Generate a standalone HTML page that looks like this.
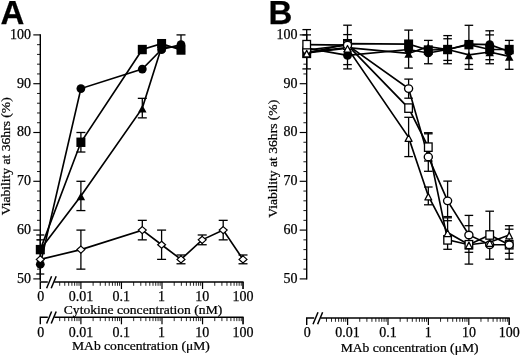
<!DOCTYPE html>
<html><head><meta charset="utf-8"><style>
html,body{margin:0;padding:0;background:#fff;width:520px;height:355px;overflow:hidden}
svg{display:block;filter:grayscale(1)}
text{fill:#000;stroke:#000;stroke-width:0.25px}
</style></head><body>
<svg width="520" height="355" viewBox="0 0 520 355">
<rect width="520" height="355" fill="#fff"/>
<path d="M40.30 34.25V279.55" stroke="#000" stroke-width="1.40"/><path d="M33.30 278.90H40.30" stroke="#000" stroke-width="1.15"/><path d="M37.00 269.14H40.30" stroke="#000" stroke-width="0.90"/><path d="M37.00 259.38H40.30" stroke="#000" stroke-width="0.90"/><path d="M37.00 249.62H40.30" stroke="#000" stroke-width="0.90"/><path d="M37.00 239.86H40.30" stroke="#000" stroke-width="0.90"/><path d="M33.30 230.10H40.30" stroke="#000" stroke-width="1.15"/><path d="M37.00 220.34H40.30" stroke="#000" stroke-width="0.90"/><path d="M37.00 210.58H40.30" stroke="#000" stroke-width="0.90"/><path d="M37.00 200.82H40.30" stroke="#000" stroke-width="0.90"/><path d="M37.00 191.06H40.30" stroke="#000" stroke-width="0.90"/><path d="M33.30 181.30H40.30" stroke="#000" stroke-width="1.15"/><path d="M37.00 171.54H40.30" stroke="#000" stroke-width="0.90"/><path d="M37.00 161.78H40.30" stroke="#000" stroke-width="0.90"/><path d="M37.00 152.02H40.30" stroke="#000" stroke-width="0.90"/><path d="M37.00 142.26H40.30" stroke="#000" stroke-width="0.90"/><path d="M33.30 132.50H40.30" stroke="#000" stroke-width="1.15"/><path d="M37.00 122.74H40.30" stroke="#000" stroke-width="0.90"/><path d="M37.00 112.98H40.30" stroke="#000" stroke-width="0.90"/><path d="M37.00 103.22H40.30" stroke="#000" stroke-width="0.90"/><path d="M37.00 93.46H40.30" stroke="#000" stroke-width="0.90"/><path d="M33.30 83.70H40.30" stroke="#000" stroke-width="1.15"/><path d="M37.00 73.94H40.30" stroke="#000" stroke-width="0.90"/><path d="M37.00 64.18H40.30" stroke="#000" stroke-width="0.90"/><path d="M37.00 54.42H40.30" stroke="#000" stroke-width="0.90"/><path d="M37.00 44.66H40.30" stroke="#000" stroke-width="0.90"/><path d="M33.30 34.90H40.30" stroke="#000" stroke-width="1.15"/>
<text transform="translate(31.10,282.70) scale(1,1.000)" font-family="Liberation Serif" font-size="14.00" text-anchor="end" >50</text><text transform="translate(31.10,233.90) scale(1,1.000)" font-family="Liberation Serif" font-size="14.00" text-anchor="end" >60</text><text transform="translate(31.10,185.10) scale(1,1.000)" font-family="Liberation Serif" font-size="14.00" text-anchor="end" >70</text><text transform="translate(31.10,136.30) scale(1,1.000)" font-family="Liberation Serif" font-size="14.00" text-anchor="end" >80</text><text transform="translate(31.10,87.50) scale(1,1.000)" font-family="Liberation Serif" font-size="14.00" text-anchor="end" >90</text><text transform="translate(31.10,38.70) scale(1,1.000)" font-family="Liberation Serif" font-size="14.00" text-anchor="end" >100</text>
<path d="M40.30 289.00V282.00H47.80" fill="none" stroke="#000" stroke-width="1.40"/><path d="M54.30 282.00H243.60" stroke="#000" stroke-width="1.40"/><path d="M46.60 288.20L51.60 276.20" stroke="#000" stroke-width="1.5"/><path d="M51.20 288.20L56.20 276.20" stroke="#000" stroke-width="1.5"/><path d="M59.70 282.00V285.80" stroke="#000" stroke-width="0.85"/><path d="M64.76 282.00V285.80" stroke="#000" stroke-width="0.85"/><path d="M68.69 282.00V285.80" stroke="#000" stroke-width="0.85"/><path d="M71.90 282.00V285.80" stroke="#000" stroke-width="0.85"/><path d="M74.62 282.00V285.80" stroke="#000" stroke-width="0.85"/><path d="M76.97 282.00V285.80" stroke="#000" stroke-width="0.85"/><path d="M79.04 282.00V285.80" stroke="#000" stroke-width="0.85"/><path d="M80.90 282.00V289.00" stroke="#000" stroke-width="1.20"/><path d="M93.11 282.00V285.80" stroke="#000" stroke-width="0.85"/><path d="M100.25 282.00V285.80" stroke="#000" stroke-width="0.85"/><path d="M105.31 282.00V285.80" stroke="#000" stroke-width="0.85"/><path d="M109.24 282.00V285.80" stroke="#000" stroke-width="0.85"/><path d="M112.45 282.00V285.80" stroke="#000" stroke-width="0.85"/><path d="M115.17 282.00V285.80" stroke="#000" stroke-width="0.85"/><path d="M117.52 282.00V285.80" stroke="#000" stroke-width="0.85"/><path d="M119.59 282.00V285.80" stroke="#000" stroke-width="0.85"/><path d="M121.45 282.00V289.00" stroke="#000" stroke-width="1.20"/><path d="M133.66 282.00V285.80" stroke="#000" stroke-width="0.85"/><path d="M140.80 282.00V285.80" stroke="#000" stroke-width="0.85"/><path d="M145.86 282.00V285.80" stroke="#000" stroke-width="0.85"/><path d="M149.79 282.00V285.80" stroke="#000" stroke-width="0.85"/><path d="M153.00 282.00V285.80" stroke="#000" stroke-width="0.85"/><path d="M155.72 282.00V285.80" stroke="#000" stroke-width="0.85"/><path d="M158.07 282.00V285.80" stroke="#000" stroke-width="0.85"/><path d="M160.14 282.00V285.80" stroke="#000" stroke-width="0.85"/><path d="M162.00 282.00V289.00" stroke="#000" stroke-width="1.20"/><path d="M174.21 282.00V285.80" stroke="#000" stroke-width="0.85"/><path d="M181.35 282.00V285.80" stroke="#000" stroke-width="0.85"/><path d="M186.41 282.00V285.80" stroke="#000" stroke-width="0.85"/><path d="M190.34 282.00V285.80" stroke="#000" stroke-width="0.85"/><path d="M193.55 282.00V285.80" stroke="#000" stroke-width="0.85"/><path d="M196.27 282.00V285.80" stroke="#000" stroke-width="0.85"/><path d="M198.62 282.00V285.80" stroke="#000" stroke-width="0.85"/><path d="M200.69 282.00V285.80" stroke="#000" stroke-width="0.85"/><path d="M202.55 282.00V289.00" stroke="#000" stroke-width="1.20"/><path d="M214.76 282.00V285.80" stroke="#000" stroke-width="0.85"/><path d="M221.90 282.00V285.80" stroke="#000" stroke-width="0.85"/><path d="M226.96 282.00V285.80" stroke="#000" stroke-width="0.85"/><path d="M230.89 282.00V285.80" stroke="#000" stroke-width="0.85"/><path d="M234.10 282.00V285.80" stroke="#000" stroke-width="0.85"/><path d="M236.82 282.00V285.80" stroke="#000" stroke-width="0.85"/><path d="M239.17 282.00V285.80" stroke="#000" stroke-width="0.85"/><path d="M241.24 282.00V285.80" stroke="#000" stroke-width="0.85"/><path d="M243.10 282.00V289.00" stroke="#000" stroke-width="1.20"/><path d="M243.00 282.00V289.00" stroke="#000" stroke-width="1.1"/>
<text transform="translate(40.80,301.30) scale(1,1.000)" font-family="Liberation Serif" font-size="14.00" text-anchor="middle" >0</text><text transform="translate(80.90,301.30) scale(1,1.000)" font-family="Liberation Serif" font-size="14.00" text-anchor="middle" >0.01</text><text transform="translate(121.15,301.30) scale(1,1.000)" font-family="Liberation Serif" font-size="14.00" text-anchor="middle" >0.1</text><text transform="translate(161.60,301.30) scale(1,1.000)" font-family="Liberation Serif" font-size="14.00" text-anchor="middle" >1</text><text transform="translate(202.20,301.30) scale(1,1.000)" font-family="Liberation Serif" font-size="14.00" text-anchor="middle" >10</text><text transform="translate(243.00,301.30) scale(1,1.000)" font-family="Liberation Serif" font-size="14.00" text-anchor="middle" >100</text>
<path d="M40.30 324.30V317.30H47.80" fill="none" stroke="#000" stroke-width="1.40"/><path d="M54.30 317.30H243.60" stroke="#000" stroke-width="1.40"/><path d="M46.60 323.50L51.60 311.50" stroke="#000" stroke-width="1.5"/><path d="M51.20 323.50L56.20 311.50" stroke="#000" stroke-width="1.5"/><path d="M59.70 317.30V321.10" stroke="#000" stroke-width="0.85"/><path d="M64.76 317.30V321.10" stroke="#000" stroke-width="0.85"/><path d="M68.69 317.30V321.10" stroke="#000" stroke-width="0.85"/><path d="M71.90 317.30V321.10" stroke="#000" stroke-width="0.85"/><path d="M74.62 317.30V321.10" stroke="#000" stroke-width="0.85"/><path d="M76.97 317.30V321.10" stroke="#000" stroke-width="0.85"/><path d="M79.04 317.30V321.10" stroke="#000" stroke-width="0.85"/><path d="M80.90 317.30V324.30" stroke="#000" stroke-width="1.20"/><path d="M93.11 317.30V321.10" stroke="#000" stroke-width="0.85"/><path d="M100.25 317.30V321.10" stroke="#000" stroke-width="0.85"/><path d="M105.31 317.30V321.10" stroke="#000" stroke-width="0.85"/><path d="M109.24 317.30V321.10" stroke="#000" stroke-width="0.85"/><path d="M112.45 317.30V321.10" stroke="#000" stroke-width="0.85"/><path d="M115.17 317.30V321.10" stroke="#000" stroke-width="0.85"/><path d="M117.52 317.30V321.10" stroke="#000" stroke-width="0.85"/><path d="M119.59 317.30V321.10" stroke="#000" stroke-width="0.85"/><path d="M121.45 317.30V324.30" stroke="#000" stroke-width="1.20"/><path d="M133.66 317.30V321.10" stroke="#000" stroke-width="0.85"/><path d="M140.80 317.30V321.10" stroke="#000" stroke-width="0.85"/><path d="M145.86 317.30V321.10" stroke="#000" stroke-width="0.85"/><path d="M149.79 317.30V321.10" stroke="#000" stroke-width="0.85"/><path d="M153.00 317.30V321.10" stroke="#000" stroke-width="0.85"/><path d="M155.72 317.30V321.10" stroke="#000" stroke-width="0.85"/><path d="M158.07 317.30V321.10" stroke="#000" stroke-width="0.85"/><path d="M160.14 317.30V321.10" stroke="#000" stroke-width="0.85"/><path d="M162.00 317.30V324.30" stroke="#000" stroke-width="1.20"/><path d="M174.21 317.30V321.10" stroke="#000" stroke-width="0.85"/><path d="M181.35 317.30V321.10" stroke="#000" stroke-width="0.85"/><path d="M186.41 317.30V321.10" stroke="#000" stroke-width="0.85"/><path d="M190.34 317.30V321.10" stroke="#000" stroke-width="0.85"/><path d="M193.55 317.30V321.10" stroke="#000" stroke-width="0.85"/><path d="M196.27 317.30V321.10" stroke="#000" stroke-width="0.85"/><path d="M198.62 317.30V321.10" stroke="#000" stroke-width="0.85"/><path d="M200.69 317.30V321.10" stroke="#000" stroke-width="0.85"/><path d="M202.55 317.30V324.30" stroke="#000" stroke-width="1.20"/><path d="M214.76 317.30V321.10" stroke="#000" stroke-width="0.85"/><path d="M221.90 317.30V321.10" stroke="#000" stroke-width="0.85"/><path d="M226.96 317.30V321.10" stroke="#000" stroke-width="0.85"/><path d="M230.89 317.30V321.10" stroke="#000" stroke-width="0.85"/><path d="M234.10 317.30V321.10" stroke="#000" stroke-width="0.85"/><path d="M236.82 317.30V321.10" stroke="#000" stroke-width="0.85"/><path d="M239.17 317.30V321.10" stroke="#000" stroke-width="0.85"/><path d="M241.24 317.30V321.10" stroke="#000" stroke-width="0.85"/><path d="M243.10 317.30V324.30" stroke="#000" stroke-width="1.20"/><path d="M243.00 317.30V324.30" stroke="#000" stroke-width="1.1"/>
<text transform="translate(40.80,336.70) scale(1,1.000)" font-family="Liberation Serif" font-size="14.00" text-anchor="middle" >0</text><text transform="translate(80.90,336.70) scale(1,1.000)" font-family="Liberation Serif" font-size="14.00" text-anchor="middle" >0.01</text><text transform="translate(121.15,336.70) scale(1,1.000)" font-family="Liberation Serif" font-size="14.00" text-anchor="middle" >0.1</text><text transform="translate(161.60,336.70) scale(1,1.000)" font-family="Liberation Serif" font-size="14.00" text-anchor="middle" >1</text><text transform="translate(202.20,336.70) scale(1,1.000)" font-family="Liberation Serif" font-size="14.00" text-anchor="middle" >10</text><text transform="translate(243.00,336.70) scale(1,1.000)" font-family="Liberation Serif" font-size="14.00" text-anchor="middle" >100</text>
<text transform="translate(143.00,313.90) scale(1,0.950)" font-family="Liberation Serif" font-size="13.60" text-anchor="middle" >Cytokine concentration (nM)</text>
<text transform="translate(140.90,350.30) scale(1,0.950)" font-family="Liberation Serif" font-size="13.60" text-anchor="middle" >MAb concentration (&#956;M)</text>
<text transform="translate(9.7,156.3) rotate(-90) scale(1,0.95)" font-family="Liberation Serif" font-size="13.6" text-anchor="middle">Viability at 36hrs (%)</text>
<text x="0.5" y="23.7" style="font-family:&quot;Liberation Sans&quot;,sans-serif;font-weight:bold;font-size:33px">A</text>
<path d="M80.90 230.10V269.14" stroke="#000" stroke-width="1.30"/><path d="M76.40 230.10H85.40" stroke="#000" stroke-width="1.30"/><path d="M76.40 269.14H85.40" stroke="#000" stroke-width="1.30"/>
<path d="M142.30 220.34V239.86" stroke="#000" stroke-width="1.30"/><path d="M137.80 220.34H146.80" stroke="#000" stroke-width="1.30"/><path d="M137.80 239.86H146.80" stroke="#000" stroke-width="1.30"/>
<path d="M161.60 230.10V259.38" stroke="#000" stroke-width="1.30"/><path d="M157.10 230.10H166.10" stroke="#000" stroke-width="1.30"/><path d="M157.10 259.38H166.10" stroke="#000" stroke-width="1.30"/>
<path d="M181.00 254.99V263.77" stroke="#000" stroke-width="1.30"/><path d="M176.50 254.99H185.50" stroke="#000" stroke-width="1.30"/><path d="M176.50 263.77H185.50" stroke="#000" stroke-width="1.30"/>
<path d="M202.20 234.98V244.74" stroke="#000" stroke-width="1.30"/><path d="M197.70 234.98H206.70" stroke="#000" stroke-width="1.30"/><path d="M197.70 244.74H206.70" stroke="#000" stroke-width="1.30"/>
<path d="M223.20 220.34V239.86" stroke="#000" stroke-width="1.30"/><path d="M218.70 220.34H227.70" stroke="#000" stroke-width="1.30"/><path d="M218.70 239.86H227.70" stroke="#000" stroke-width="1.30"/>
<path d="M243.00 254.99V263.77" stroke="#000" stroke-width="1.30"/><path d="M238.50 254.99H247.50" stroke="#000" stroke-width="1.30"/><path d="M238.50 263.77H247.50" stroke="#000" stroke-width="1.30"/>
<path d="M80.90 132.50V152.02" stroke="#000" stroke-width="1.30"/><path d="M76.40 132.50H85.40" stroke="#000" stroke-width="1.30"/><path d="M76.40 152.02H85.40" stroke="#000" stroke-width="1.30"/>
<path d="M80.90 181.30V210.58" stroke="#000" stroke-width="1.30"/><path d="M76.40 181.30H85.40" stroke="#000" stroke-width="1.30"/><path d="M76.40 210.58H85.40" stroke="#000" stroke-width="1.30"/>
<path d="M142.30 98.34V117.86" stroke="#000" stroke-width="1.30"/><path d="M137.80 98.34H146.80" stroke="#000" stroke-width="1.30"/><path d="M137.80 117.86H146.80" stroke="#000" stroke-width="1.30"/>
<path d="M181.00 34.90V44.66" stroke="#000" stroke-width="1.30"/>
<path d="M176.50 34.90H185.50" stroke="#000" stroke-width="1.30"/>
<path d="M40.30 234.98V281.34" stroke="#000" stroke-width="1.30"/>
<path d="M36.30 234.98H44.30" stroke="#000" stroke-width="1.30"/>
<path d="M36.30 239.86H44.30" stroke="#000" stroke-width="1.30"/>
<path d="M36.30 274.02H44.30" stroke="#000" stroke-width="1.30"/>
<polyline points="40.30,264.26 80.90,88.58 142.30,69.06 161.60,49.54 181.00,44.66" fill="none" stroke="#000" stroke-width="1.65" stroke-linejoin="miter"/>
<polyline points="40.30,249.62 80.90,142.26 142.30,49.54 161.60,43.68 181.00,50.03" fill="none" stroke="#000" stroke-width="1.65" stroke-linejoin="miter"/>
<polyline points="40.30,249.62 80.90,195.94 142.30,108.10 161.60,47.10 181.00,47.10" fill="none" stroke="#000" stroke-width="1.65" stroke-linejoin="miter"/>
<polyline points="40.30,259.38 80.90,249.62 142.30,230.10 161.60,244.74 181.00,259.38 202.20,239.86 223.20,230.10 243.00,259.38" fill="none" stroke="#000" stroke-width="1.65" stroke-linejoin="miter"/>
<rect x="35.80" y="244.92" width="9" height="9.4" fill="#000"/>
<rect x="76.40" y="137.56" width="9" height="9.4" fill="#000"/>
<rect x="137.80" y="44.84" width="9" height="9.4" fill="#000"/>
<rect x="157.10" y="38.98" width="9" height="9.4" fill="#000"/>
<rect x="176.50" y="45.33" width="9" height="9.4" fill="#000"/>
<path d="M40.30 246.22L44.55 253.92L36.05 253.92Z" fill="#000"/>
<path d="M80.90 192.54L85.15 200.24L76.65 200.24Z" fill="#000"/>
<path d="M142.30 104.70L146.55 112.40L138.05 112.40Z" fill="#000"/>
<path d="M161.60 43.70L165.85 51.40L157.35 51.40Z" fill="#000"/>
<path d="M181.00 43.70L185.25 51.40L176.75 51.40Z" fill="#000"/>
<circle cx="40.30" cy="264.26" r="4.4" fill="#000"/>
<circle cx="80.90" cy="88.58" r="4.4" fill="#000"/>
<circle cx="142.30" cy="69.06" r="4.4" fill="#000"/>
<circle cx="161.60" cy="49.54" r="4.4" fill="#000"/>
<circle cx="181.00" cy="44.66" r="4.4" fill="#000"/>
<path d="M40.30 255.88L44.25 259.38L40.30 262.88L36.35 259.38Z" fill="#fff" stroke="#000" stroke-width="1.2"/>
<path d="M80.90 246.12L84.85 249.62L80.90 253.12L76.95 249.62Z" fill="#fff" stroke="#000" stroke-width="1.2"/>
<path d="M142.30 226.60L146.25 230.10L142.30 233.60L138.35 230.10Z" fill="#fff" stroke="#000" stroke-width="1.2"/>
<path d="M161.60 241.24L165.55 244.74L161.60 248.24L157.65 244.74Z" fill="#fff" stroke="#000" stroke-width="1.2"/>
<path d="M181.00 255.88L184.95 259.38L181.00 262.88L177.05 259.38Z" fill="#fff" stroke="#000" stroke-width="1.2"/>
<path d="M202.20 236.36L206.15 239.86L202.20 243.36L198.25 239.86Z" fill="#fff" stroke="#000" stroke-width="1.2"/>
<path d="M223.20 226.60L227.15 230.10L223.20 233.60L219.25 230.10Z" fill="#fff" stroke="#000" stroke-width="1.2"/>
<path d="M243.00 255.88L246.95 259.38L243.00 262.88L239.05 259.38Z" fill="#fff" stroke="#000" stroke-width="1.2"/>
<path d="M306.70 34.25V279.55" stroke="#000" stroke-width="1.40"/><path d="M299.70 278.90H306.70" stroke="#000" stroke-width="1.15"/><path d="M303.40 269.14H306.70" stroke="#000" stroke-width="0.90"/><path d="M303.40 259.38H306.70" stroke="#000" stroke-width="0.90"/><path d="M303.40 249.62H306.70" stroke="#000" stroke-width="0.90"/><path d="M303.40 239.86H306.70" stroke="#000" stroke-width="0.90"/><path d="M299.70 230.10H306.70" stroke="#000" stroke-width="1.15"/><path d="M303.40 220.34H306.70" stroke="#000" stroke-width="0.90"/><path d="M303.40 210.58H306.70" stroke="#000" stroke-width="0.90"/><path d="M303.40 200.82H306.70" stroke="#000" stroke-width="0.90"/><path d="M303.40 191.06H306.70" stroke="#000" stroke-width="0.90"/><path d="M299.70 181.30H306.70" stroke="#000" stroke-width="1.15"/><path d="M303.40 171.54H306.70" stroke="#000" stroke-width="0.90"/><path d="M303.40 161.78H306.70" stroke="#000" stroke-width="0.90"/><path d="M303.40 152.02H306.70" stroke="#000" stroke-width="0.90"/><path d="M303.40 142.26H306.70" stroke="#000" stroke-width="0.90"/><path d="M299.70 132.50H306.70" stroke="#000" stroke-width="1.15"/><path d="M303.40 122.74H306.70" stroke="#000" stroke-width="0.90"/><path d="M303.40 112.98H306.70" stroke="#000" stroke-width="0.90"/><path d="M303.40 103.22H306.70" stroke="#000" stroke-width="0.90"/><path d="M303.40 93.46H306.70" stroke="#000" stroke-width="0.90"/><path d="M299.70 83.70H306.70" stroke="#000" stroke-width="1.15"/><path d="M303.40 73.94H306.70" stroke="#000" stroke-width="0.90"/><path d="M303.40 64.18H306.70" stroke="#000" stroke-width="0.90"/><path d="M303.40 54.42H306.70" stroke="#000" stroke-width="0.90"/><path d="M303.40 44.66H306.70" stroke="#000" stroke-width="0.90"/><path d="M299.70 34.90H306.70" stroke="#000" stroke-width="1.15"/>
<text transform="translate(297.50,282.70) scale(1,1.000)" font-family="Liberation Serif" font-size="14.00" text-anchor="end" >50</text><text transform="translate(297.50,233.90) scale(1,1.000)" font-family="Liberation Serif" font-size="14.00" text-anchor="end" >60</text><text transform="translate(297.50,185.10) scale(1,1.000)" font-family="Liberation Serif" font-size="14.00" text-anchor="end" >70</text><text transform="translate(297.50,136.30) scale(1,1.000)" font-family="Liberation Serif" font-size="14.00" text-anchor="end" >80</text><text transform="translate(297.50,87.50) scale(1,1.000)" font-family="Liberation Serif" font-size="14.00" text-anchor="end" >90</text><text transform="translate(297.50,38.70) scale(1,1.000)" font-family="Liberation Serif" font-size="14.00" text-anchor="end" >100</text>
<path d="M306.70 325.00V318.00H314.20" fill="none" stroke="#000" stroke-width="1.40"/><path d="M320.70 318.00H509.80" stroke="#000" stroke-width="1.40"/><path d="M313.00 324.20L318.00 312.20" stroke="#000" stroke-width="1.5"/><path d="M317.60 324.20L322.60 312.20" stroke="#000" stroke-width="1.5"/><path d="M326.48 318.00V321.80" stroke="#000" stroke-width="0.85"/><path d="M331.52 318.00V321.80" stroke="#000" stroke-width="0.85"/><path d="M335.44 318.00V321.80" stroke="#000" stroke-width="0.85"/><path d="M338.64 318.00V321.80" stroke="#000" stroke-width="0.85"/><path d="M341.34 318.00V321.80" stroke="#000" stroke-width="0.85"/><path d="M343.68 318.00V321.80" stroke="#000" stroke-width="0.85"/><path d="M345.75 318.00V321.80" stroke="#000" stroke-width="0.85"/><path d="M347.60 318.00V325.00" stroke="#000" stroke-width="1.20"/><path d="M359.76 318.00V321.80" stroke="#000" stroke-width="0.85"/><path d="M366.88 318.00V321.80" stroke="#000" stroke-width="0.85"/><path d="M371.92 318.00V321.80" stroke="#000" stroke-width="0.85"/><path d="M375.84 318.00V321.80" stroke="#000" stroke-width="0.85"/><path d="M379.04 318.00V321.80" stroke="#000" stroke-width="0.85"/><path d="M381.74 318.00V321.80" stroke="#000" stroke-width="0.85"/><path d="M384.08 318.00V321.80" stroke="#000" stroke-width="0.85"/><path d="M386.15 318.00V321.80" stroke="#000" stroke-width="0.85"/><path d="M388.00 318.00V325.00" stroke="#000" stroke-width="1.20"/><path d="M400.16 318.00V321.80" stroke="#000" stroke-width="0.85"/><path d="M407.28 318.00V321.80" stroke="#000" stroke-width="0.85"/><path d="M412.32 318.00V321.80" stroke="#000" stroke-width="0.85"/><path d="M416.24 318.00V321.80" stroke="#000" stroke-width="0.85"/><path d="M419.44 318.00V321.80" stroke="#000" stroke-width="0.85"/><path d="M422.14 318.00V321.80" stroke="#000" stroke-width="0.85"/><path d="M424.48 318.00V321.80" stroke="#000" stroke-width="0.85"/><path d="M426.55 318.00V321.80" stroke="#000" stroke-width="0.85"/><path d="M428.40 318.00V325.00" stroke="#000" stroke-width="1.20"/><path d="M440.56 318.00V321.80" stroke="#000" stroke-width="0.85"/><path d="M447.68 318.00V321.80" stroke="#000" stroke-width="0.85"/><path d="M452.72 318.00V321.80" stroke="#000" stroke-width="0.85"/><path d="M456.64 318.00V321.80" stroke="#000" stroke-width="0.85"/><path d="M459.84 318.00V321.80" stroke="#000" stroke-width="0.85"/><path d="M462.54 318.00V321.80" stroke="#000" stroke-width="0.85"/><path d="M464.88 318.00V321.80" stroke="#000" stroke-width="0.85"/><path d="M466.95 318.00V321.80" stroke="#000" stroke-width="0.85"/><path d="M468.80 318.00V325.00" stroke="#000" stroke-width="1.20"/><path d="M480.96 318.00V321.80" stroke="#000" stroke-width="0.85"/><path d="M488.08 318.00V321.80" stroke="#000" stroke-width="0.85"/><path d="M493.12 318.00V321.80" stroke="#000" stroke-width="0.85"/><path d="M497.04 318.00V321.80" stroke="#000" stroke-width="0.85"/><path d="M500.24 318.00V321.80" stroke="#000" stroke-width="0.85"/><path d="M502.94 318.00V321.80" stroke="#000" stroke-width="0.85"/><path d="M505.28 318.00V321.80" stroke="#000" stroke-width="0.85"/><path d="M507.35 318.00V321.80" stroke="#000" stroke-width="0.85"/><path d="M509.20 318.00V325.00" stroke="#000" stroke-width="1.20"/><path d="M509.20 318.00V325.00" stroke="#000" stroke-width="1.1"/>
<text transform="translate(307.20,337.30) scale(1,1.000)" font-family="Liberation Serif" font-size="14.00" text-anchor="middle" >0</text><text transform="translate(347.50,337.30) scale(1,1.000)" font-family="Liberation Serif" font-size="14.00" text-anchor="middle" >0.01</text><text transform="translate(388.00,337.30) scale(1,1.000)" font-family="Liberation Serif" font-size="14.00" text-anchor="middle" >0.1</text><text transform="translate(428.30,337.30) scale(1,1.000)" font-family="Liberation Serif" font-size="14.00" text-anchor="middle" >1</text><text transform="translate(468.90,337.30) scale(1,1.000)" font-family="Liberation Serif" font-size="14.00" text-anchor="middle" >10</text><text transform="translate(509.20,337.30) scale(1,1.000)" font-family="Liberation Serif" font-size="14.00" text-anchor="middle" >100</text>
<text transform="translate(409.60,351.70) scale(1,0.950)" font-family="Liberation Serif" font-size="13.60" text-anchor="middle" >MAb concentration (&#956;M)</text>
<text transform="translate(276.5,158.8) rotate(-90) scale(1,0.95)" font-family="Liberation Serif" font-size="13.6" text-anchor="middle">Viability at 36hrs (%)</text>
<text x="268.4" y="23.7" style="font-family:&quot;Liberation Sans&quot;,sans-serif;font-weight:bold;font-size:33px">B</text>
<path d="M306.70 29.60V68.90" stroke="#000" stroke-width="1.30"/>
<path d="M302.40 29.60H311.00" stroke="#000" stroke-width="1.30"/>
<path d="M302.40 34.90H311.00" stroke="#000" stroke-width="1.30"/>
<path d="M302.40 68.90H311.00" stroke="#000" stroke-width="1.30"/>
<path d="M347.50 25.20V68.90" stroke="#000" stroke-width="1.30"/>
<path d="M343.20 25.20H351.80" stroke="#000" stroke-width="1.30"/>
<path d="M343.20 34.60H351.80" stroke="#000" stroke-width="1.30"/>
<path d="M343.20 64.60H351.80" stroke="#000" stroke-width="1.30"/>
<path d="M343.20 68.90H351.80" stroke="#000" stroke-width="1.30"/>
<path d="M408.60 30.10V68.10" stroke="#000" stroke-width="1.30"/>
<path d="M404.30 30.10H412.90" stroke="#000" stroke-width="1.30"/>
<path d="M404.30 68.10H412.90" stroke="#000" stroke-width="1.30"/>
<path d="M428.30 40.40V63.75" stroke="#000" stroke-width="1.30"/>
<path d="M424.00 40.40H432.60" stroke="#000" stroke-width="1.30"/>
<path d="M424.00 63.75H432.60" stroke="#000" stroke-width="1.30"/>
<path d="M447.60 35.60V63.75" stroke="#000" stroke-width="1.30"/>
<path d="M443.30 35.60H451.90" stroke="#000" stroke-width="1.30"/>
<path d="M443.30 38.75H451.90" stroke="#000" stroke-width="1.30"/>
<path d="M443.30 60.40H451.90" stroke="#000" stroke-width="1.30"/>
<path d="M443.30 63.75H451.90" stroke="#000" stroke-width="1.30"/>
<path d="M468.90 25.30V69.30" stroke="#000" stroke-width="1.30"/>
<path d="M464.60 25.30H473.20" stroke="#000" stroke-width="1.30"/>
<path d="M464.60 64.50H473.20" stroke="#000" stroke-width="1.30"/>
<path d="M464.60 69.30H473.20" stroke="#000" stroke-width="1.30"/>
<path d="M489.70 30.80V63.75" stroke="#000" stroke-width="1.30"/>
<path d="M485.40 30.80H494.00" stroke="#000" stroke-width="1.30"/>
<path d="M485.40 34.90H494.00" stroke="#000" stroke-width="1.30"/>
<path d="M485.40 59.70H494.00" stroke="#000" stroke-width="1.30"/>
<path d="M485.40 63.75H494.00" stroke="#000" stroke-width="1.30"/>
<path d="M509.20 40.40V69.30" stroke="#000" stroke-width="1.30"/>
<path d="M504.90 40.40H513.50" stroke="#000" stroke-width="1.30"/>
<path d="M504.90 69.30H513.50" stroke="#000" stroke-width="1.30"/>
<path d="M408.60 79.10V98.20" stroke="#000" stroke-width="1.30"/>
<path d="M404.30 79.10H412.90" stroke="#000" stroke-width="1.30"/>
<path d="M404.30 98.20H412.90" stroke="#000" stroke-width="1.30"/>
<path d="M408.60 117.30V156.60" stroke="#000" stroke-width="1.30"/>
<path d="M404.30 117.30H412.90" stroke="#000" stroke-width="1.30"/>
<path d="M404.30 156.60H412.90" stroke="#000" stroke-width="1.30"/>
<path d="M428.30 133.80V171.30" stroke="#000" stroke-width="1.30"/>
<path d="M424.00 133.80H432.60" stroke="#000" stroke-width="1.30"/>
<path d="M424.00 171.30H432.60" stroke="#000" stroke-width="1.30"/>
<path d="M428.30 132.70V161.00" stroke="#000" stroke-width="1.30"/>
<path d="M424.00 132.70H432.60" stroke="#000" stroke-width="1.30"/>
<path d="M424.00 161.00H432.60" stroke="#000" stroke-width="1.30"/>
<path d="M428.30 187.00V204.80" stroke="#000" stroke-width="1.30"/>
<path d="M424.00 187.00H432.60" stroke="#000" stroke-width="1.30"/>
<path d="M424.00 204.80H432.60" stroke="#000" stroke-width="1.30"/>
<path d="M447.60 181.10V216.60" stroke="#000" stroke-width="1.30"/>
<path d="M443.30 181.10H451.90" stroke="#000" stroke-width="1.30"/>
<path d="M443.30 216.60H451.90" stroke="#000" stroke-width="1.30"/>
<path d="M447.60 217.80V249.30" stroke="#000" stroke-width="1.30"/>
<path d="M443.30 217.80H451.90" stroke="#000" stroke-width="1.30"/>
<path d="M443.30 220.70H451.90" stroke="#000" stroke-width="1.30"/>
<path d="M443.30 249.30H451.90" stroke="#000" stroke-width="1.30"/>
<path d="M468.90 215.40V264.10" stroke="#000" stroke-width="1.30"/>
<path d="M464.60 215.40H473.20" stroke="#000" stroke-width="1.30"/>
<path d="M464.60 225.70H473.20" stroke="#000" stroke-width="1.30"/>
<path d="M464.60 252.30H473.20" stroke="#000" stroke-width="1.30"/>
<path d="M464.60 264.10H473.20" stroke="#000" stroke-width="1.30"/>
<path d="M489.70 211.20V259.20" stroke="#000" stroke-width="1.30"/>
<path d="M485.40 211.20H494.00" stroke="#000" stroke-width="1.30"/>
<path d="M485.40 259.20H494.00" stroke="#000" stroke-width="1.30"/>
<path d="M509.20 225.70V259.20" stroke="#000" stroke-width="1.30"/>
<path d="M504.90 225.70H513.50" stroke="#000" stroke-width="1.30"/>
<path d="M504.90 229.20H513.50" stroke="#000" stroke-width="1.30"/>
<path d="M504.90 253.30H513.50" stroke="#000" stroke-width="1.30"/>
<path d="M504.90 259.20H513.50" stroke="#000" stroke-width="1.30"/>
<polyline points="306.70,53.44 347.50,43.68 408.60,44.17 428.30,50.03 447.60,49.54 468.90,44.66 489.70,49.54 509.20,49.54" fill="none" stroke="#000" stroke-width="1.65" stroke-linejoin="miter"/>
<polyline points="306.70,48.08 347.50,55.40 408.60,49.54 428.30,52.96 447.60,49.54 468.90,44.17 489.70,44.66 509.20,51.49" fill="none" stroke="#000" stroke-width="1.65" stroke-linejoin="miter"/>
<polyline points="306.70,51.98 347.50,47.59 408.60,53.44 428.30,46.61 447.60,49.54 468.90,54.91 489.70,51.98 509.20,56.37" fill="none" stroke="#000" stroke-width="1.65" stroke-linejoin="miter"/>
<polyline points="306.70,50.03 347.50,45.15 408.60,88.58 428.30,156.90 447.60,200.82 468.90,234.98 489.70,244.74 509.20,244.74" fill="none" stroke="#000" stroke-width="1.65" stroke-linejoin="miter"/>
<polyline points="306.70,44.66 347.50,45.15 408.60,108.10 428.30,147.14 447.60,239.86 468.90,244.74 489.70,234.98 509.20,244.74" fill="none" stroke="#000" stroke-width="1.65" stroke-linejoin="miter"/>
<polyline points="306.70,52.96 347.50,48.08 408.60,137.38 428.30,195.94 447.60,232.54 468.90,244.74 489.70,242.30 509.20,234.98" fill="none" stroke="#000" stroke-width="1.65" stroke-linejoin="miter"/>
<rect x="302.20" y="48.74" width="9" height="9.4" fill="#000"/>
<rect x="343.00" y="38.98" width="9" height="9.4" fill="#000"/>
<rect x="404.10" y="39.47" width="9" height="9.4" fill="#000"/>
<rect x="423.80" y="45.33" width="9" height="9.4" fill="#000"/>
<rect x="443.10" y="44.84" width="9" height="9.4" fill="#000"/>
<rect x="464.40" y="39.96" width="9" height="9.4" fill="#000"/>
<rect x="485.20" y="44.84" width="9" height="9.4" fill="#000"/>
<rect x="504.70" y="44.84" width="9" height="9.4" fill="#000"/>
<circle cx="306.70" cy="48.08" r="4.4" fill="#000"/>
<circle cx="347.50" cy="55.40" r="4.4" fill="#000"/>
<circle cx="408.60" cy="49.54" r="4.4" fill="#000"/>
<circle cx="428.30" cy="52.96" r="4.4" fill="#000"/>
<circle cx="447.60" cy="49.54" r="4.4" fill="#000"/>
<circle cx="468.90" cy="44.17" r="4.4" fill="#000"/>
<circle cx="489.70" cy="44.66" r="4.4" fill="#000"/>
<circle cx="509.20" cy="51.49" r="4.4" fill="#000"/>
<path d="M306.70 48.58L310.95 56.28L302.45 56.28Z" fill="#000"/>
<path d="M347.50 44.19L351.75 51.89L343.25 51.89Z" fill="#000"/>
<path d="M408.60 50.04L412.85 57.74L404.35 57.74Z" fill="#000"/>
<path d="M428.30 43.21L432.55 50.91L424.05 50.91Z" fill="#000"/>
<path d="M447.60 46.14L451.85 53.84L443.35 53.84Z" fill="#000"/>
<path d="M468.90 51.51L473.15 59.21L464.65 59.21Z" fill="#000"/>
<path d="M489.70 48.58L493.95 56.28L485.45 56.28Z" fill="#000"/>
<path d="M509.20 52.97L513.45 60.67L504.95 60.67Z" fill="#000"/>
<ellipse cx="306.70" cy="50.03" rx="4.05" ry="3.75" fill="#fff" stroke="#000" stroke-width="1.35"/>
<path d="M306.70 50.36L310.15 56.96L303.25 56.96Z" fill="#fff" stroke="#000" stroke-width="1.25" stroke-linejoin="round"/>
<rect x="302.90" y="40.46" width="7.6" height="8.4" fill="#fff" stroke="#000" stroke-width="1.3"/>
<rect x="343.70" y="40.95" width="7.6" height="8.4" fill="#fff" stroke="#000" stroke-width="1.3"/>
<ellipse cx="347.50" cy="45.15" rx="4.05" ry="3.75" fill="#fff" stroke="#000" stroke-width="1.35"/>
<path d="M347.50 45.48L350.95 52.08L344.05 52.08Z" fill="#fff" stroke="#000" stroke-width="1.25" stroke-linejoin="round"/>
<rect x="404.80" y="103.90" width="7.6" height="8.4" fill="#fff" stroke="#000" stroke-width="1.3"/>
<path d="M408.60 134.78L412.05 141.38L405.15 141.38Z" fill="#fff" stroke="#000" stroke-width="1.25" stroke-linejoin="round"/>
<ellipse cx="408.60" cy="88.58" rx="4.05" ry="3.75" fill="#fff" stroke="#000" stroke-width="1.35"/>
<rect x="424.50" y="142.94" width="7.6" height="8.4" fill="#fff" stroke="#000" stroke-width="1.3"/>
<path d="M428.30 193.34L431.75 199.94L424.85 199.94Z" fill="#fff" stroke="#000" stroke-width="1.25" stroke-linejoin="round"/>
<ellipse cx="428.30" cy="156.90" rx="4.05" ry="3.75" fill="#fff" stroke="#000" stroke-width="1.35"/>
<rect x="443.80" y="235.66" width="7.6" height="8.4" fill="#fff" stroke="#000" stroke-width="1.3"/>
<path d="M447.60 229.94L451.05 236.54L444.15 236.54Z" fill="#fff" stroke="#000" stroke-width="1.25" stroke-linejoin="round"/>
<ellipse cx="447.60" cy="200.82" rx="4.05" ry="3.75" fill="#fff" stroke="#000" stroke-width="1.35"/>
<rect x="465.10" y="240.54" width="7.6" height="8.4" fill="#fff" stroke="#000" stroke-width="1.3"/>
<path d="M468.90 242.14L472.35 248.74L465.45 248.74Z" fill="#fff" stroke="#000" stroke-width="1.25" stroke-linejoin="round"/>
<ellipse cx="468.90" cy="234.98" rx="4.05" ry="3.75" fill="#fff" stroke="#000" stroke-width="1.35"/>
<rect x="485.90" y="230.78" width="7.6" height="8.4" fill="#fff" stroke="#000" stroke-width="1.3"/>
<ellipse cx="489.70" cy="244.74" rx="4.05" ry="3.75" fill="#fff" stroke="#000" stroke-width="1.35"/>
<path d="M489.70 239.70L493.15 246.30L486.25 246.30Z" fill="#fff" stroke="#000" stroke-width="1.25" stroke-linejoin="round"/>
<rect x="505.40" y="240.54" width="7.6" height="8.4" fill="#fff" stroke="#000" stroke-width="1.3"/>
<path d="M509.20 232.38L512.65 238.98L505.75 238.98Z" fill="#fff" stroke="#000" stroke-width="1.25" stroke-linejoin="round"/>
<ellipse cx="509.20" cy="244.74" rx="4.05" ry="3.75" fill="#fff" stroke="#000" stroke-width="1.35"/>
</svg>
</body></html>
